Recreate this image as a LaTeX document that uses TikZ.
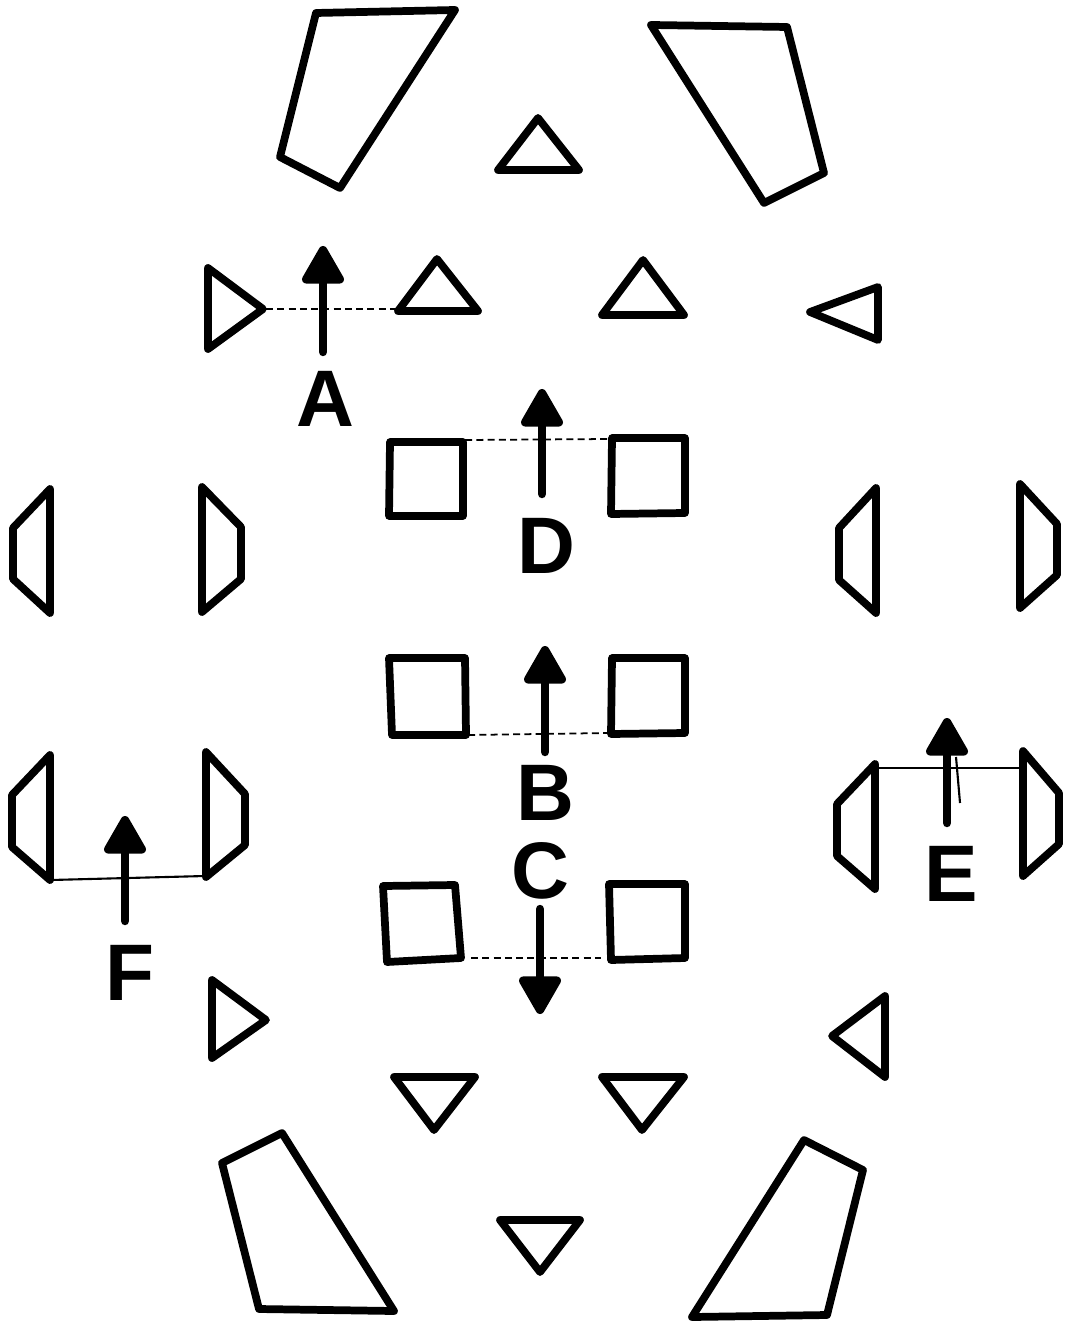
\documentclass[tikz,border=0pt]{standalone}
\usepackage{fontspec}
\setmainfont{Liberation Sans}
\usetikzlibrary{arrows.meta}
\tikzset{
  part/.style={line width=2.2pt,line join=round,line cap=round},
  arr/.style={line width=2.4pt,line cap=round,-{Triangle[length=12pt,width=13pt,round]}},
  lbl/.style={font=\fontsize{22.8}{24}\selectfont\bfseries,inner sep=0pt},
  dots/.style={line width=0.5pt,dash pattern=on 2pt off 1.2pt},
  guide/.style={line width=0.6pt}
}
\begin{document}
\begin{tikzpicture}[x=0.01cm,y=-0.01cm]
\useasboundingbox (0,0) rectangle (1064,1325);

\draw[part] (316,13)--(455,10)--(340,188)--(280,157)--cycle;
\draw[part] (651,25)--(787,27)--(824,173)--(764,203)--cycle;
\draw[part] (538,118)--(579,170)--(498,170)--cycle;

\draw[part] (208,268)--(263,309)--(208,349)--cycle;
\draw[part] (437,259)--(478,311)--(398,311)--cycle;
\draw[part] (643,260)--(684,315)--(602,315)--cycle;
\draw[part] (810,312)--(878,287)--(878,340)--cycle;

\draw[part] (390,442)--(463,442)--(463,516)--(389,516)--cycle;
\draw[part] (612,438)--(685,438)--(685,513)--(611,514)--cycle;
\draw[part] (389,658)--(465,658)--(466,735)--(392,735)--cycle;
\draw[part] (612,658)--(685,658)--(685,733)--(611,734)--cycle;
\draw[part] (383,886)--(455,885)--(461,958)--(387,962)--cycle;
\draw[part] (609,884)--(685,884)--(685,958)--(611,960)--cycle;

\draw[part] (50,489)--(50,613)--(13,579)--(13,528)--cycle;
\draw[part] (202,487)--(241,527)--(241,579)--(202,612)--cycle;
\draw[part] (50,755)--(50,880)--(12,847)--(12,795)--cycle;
\draw[part] (206,752)--(245,794)--(245,845)--(206,877)--cycle;
\draw[part] (876,488)--(876,613)--(839,580)--(839,528)--cycle;
\draw[part] (1020,484)--(1057,524)--(1057,575)--(1020,608)--cycle;
\draw[part] (875,764)--(875,889)--(837,856)--(837,804)--cycle;
\draw[part] (1023,751)--(1059,793)--(1059,844)--(1023,876)--cycle;

\draw[part] (212,980)--(266,1020)--(212,1058)--cycle;
\draw[part] (885,996)--(885,1077)--(832,1036)--cycle;
\draw[part] (394,1077)--(475,1077)--(434,1130)--cycle;
\draw[part] (602,1077)--(684,1077)--(642,1130)--cycle;
\draw[part] (500,1220)--(580,1220)--(540,1272)--cycle;

\draw[part] (222,1163)--(282,1133)--(394,1311)--(259,1309)--cycle;
\draw[part] (692,1317)--(804,1140)--(863,1170)--(827,1315)--cycle;

\coordinate (tA) at (266,309);
\coordinate (hA) at (396,309);
\coordinate (tD) at (465,440);
\coordinate (hD) at (610,439);
\coordinate (tB) at (468,735);
\coordinate (hB) at (609,733);
\coordinate (tC) at (471,958);
\coordinate (hC) at (601,958);
\draw[dots] (tA)--(hA);
\draw[dots] (tD)--(hD);
\draw[dots] (tB)--(hB);
\draw[dots] (tC)--(hC);

\coordinate (fL) at (51,880);
\coordinate (fR) at (205,876);
\coordinate (eL) at (876,768);
\coordinate (eR) at (1022,768);
\coordinate (eS) at (956,757);
\coordinate (eT) at (960,803);
\draw[guide] (fL)--(fR);
\draw[guide] (eL)--(eR);
\draw[guide] (eS)--(eT);

\node[lbl] (labA) at (325,399) {A};
\node[lbl] (labD) at (546,546) {D};
\node[lbl] (labB) at (545,793) {B};
\node[lbl] (labC) at (540,871) {C};
\node[lbl] (labE) at (951,874) {E};
\node[lbl] (labF) at (130,973) {F};

\draw[arr] (323,352) coordinate (a0) -- (323,246) coordinate (a1);
\draw[arr] (542,494) coordinate (d0) -- (542,389) coordinate (d1);
\draw[arr] (545,752) coordinate (b0) -- (545,646) coordinate (b1);
\draw[arr] (540,909) coordinate (c0) -- (540,1014) coordinate (c1);
\draw[arr] (947,823) coordinate (e0) -- (947,718) coordinate (e1);
\draw[arr] (125,921) coordinate (f0) -- (125,816) coordinate (f1);
\end{tikzpicture}
\end{document}
